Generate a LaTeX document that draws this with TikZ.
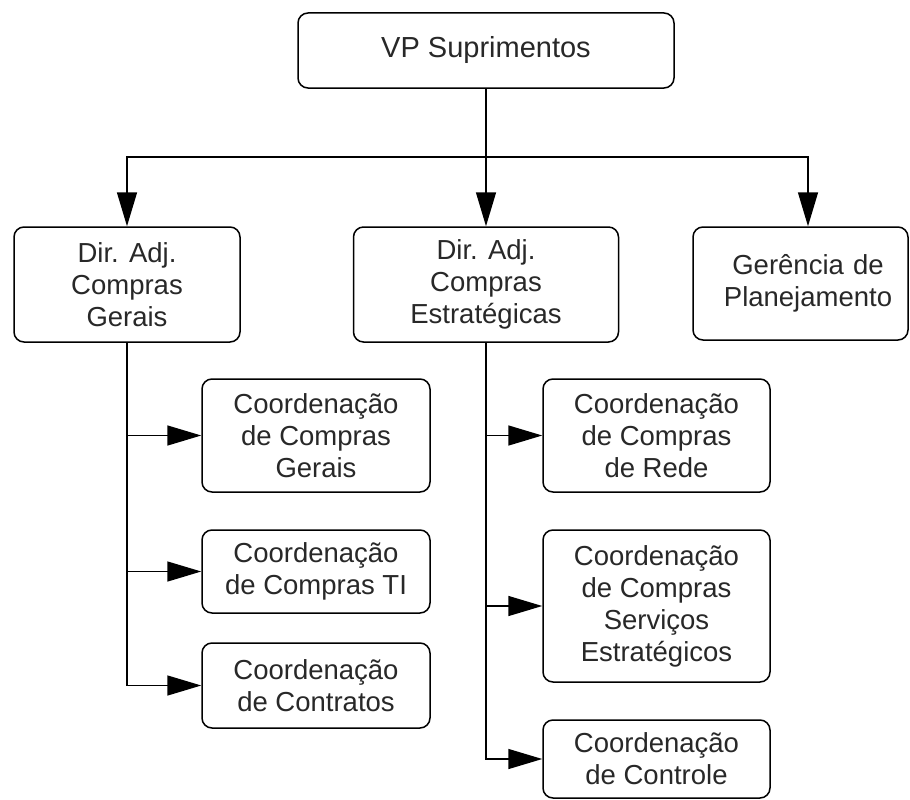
\documentclass[tikz,border=0pt]{standalone}
\usepackage{fontspec}
\setmainfont{Liberation Sans}
\usetikzlibrary{arrows.meta}
\definecolor{txt}{RGB}{40,40,40}
\begin{document}
\begin{tikzpicture}[x=1pt,y=-1pt,
  box/.style={draw=black, line width=1.5pt, rounded corners=10pt, fill=white,
    inner sep=0pt, align=center, text=txt,
    font=\fontsize{27.5}{32}\selectfont},
  arr/.style={draw=black, line width=1.5pt, -{Triangle[length=34pt,width=20pt]}},
  ln/.style={draw=black, line width=1.5pt}]
\useasboundingbox (0,0) rectangle (910,800);
% top
\node[box, minimum width=376pt, minimum height=75pt, font=\fontsize{29}{34}\selectfont] (vp) at (486,50.5) {VP Suprimentos};
% level 2
\node[box, minimum width=226pt, minimum height=115pt] (d1) at (127,284.5) {Dir. Adj.\\Compras\\Gerais};
\node[box, minimum width=265pt, minimum height=115pt] (d2) at (486,284.5) {Dir. Adj.\\Compras\\Estratégicas};
\node[box, minimum width=215pt, minimum height=113pt, text width=215pt] (ger) at (800.5,283.5) {\hspace*{15pt}Gerência de\\\hspace*{15pt}Planejamento};
% left subs
\node[box, minimum width=228pt, minimum height=113pt] (l1) at (316,435.5) {Coordenação\\de Compras\\Gerais};
\node[box, minimum width=228pt, minimum height=83pt] (l2) at (316,571.5) {Coordenação\\de Compras TI};
\node[box, minimum width=228pt, minimum height=85pt] (l3) at (316,685.5) {Coordenação\\de Contratos};
% right subs
\node[box, minimum width=227pt, minimum height=113pt] (r1) at (656.5,435.5) {Coordenação\\de Compras\\de Rede};
\node[box, minimum width=227pt, minimum height=152pt] (r2) at (656.5,606) {Coordenação\\de Compras\\Serviços\\Estratégicos};
\node[box, minimum width=227pt, minimum height=78pt] (r3) at (656.5,759) {Coordenação\\de Controle};
% connectors
\coordinate (bar) at (486,157);
\draw[arr] (vp.south) -- (d2.north);
\draw[arr] (bar) -| (d1.north);
\draw[arr] (bar) -| ([xshift=7.5pt]ger.north);
\draw[arr] (d1.south) |- (l3.west);
\draw[arr] (d1.south |- l1.west) -- (l1.west);
\draw[arr] (d1.south |- l2.west) -- (l2.west);
\draw[arr] (d2.south) |- (r3.west);
\draw[arr] (d2.south |- r1.west) -- (r1.west);
\draw[arr] (d2.south |- r2.west) -- (r2.west);
\end{tikzpicture}
\end{document}
